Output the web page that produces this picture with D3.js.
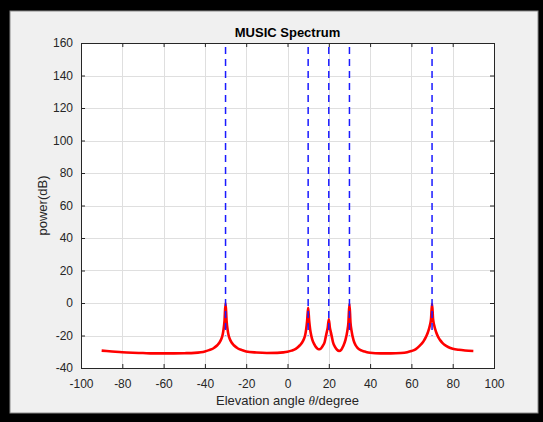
<!DOCTYPE html>
<html>
<head>
<meta charset="utf-8">
<script src="https://cdn.jsdelivr.net/npm/d3@7"></script>
<style>
  body { margin: 0; background: #000; }
  svg { display: block; font-family: "Liberation Sans", Arial, sans-serif; }
</style>
</head>
<body>
<script>
// spectrum samples (angle in degrees, power in dB)
var angles = [-90, -85, -80, -75, -70, -65, -60, -55, -50, -45, -42, -40, -38, -36, -34, -33, -32, -31.5, -31, -30.5, -30,
  -29.5, -29, -28.5, -28, -27, -26, -24, -22, -20, -15, -10, -5, -2, 0, 2, 4, 6, 7, 8, 8.5, 9, 9.5, 10,
  10.5, 11, 11.5, 12, 13, 14, 15, 16, 17, 18, 18.5, 19, 19.5, 20, 20.5, 21, 21.5, 22, 23, 24, 25, 26, 27, 28, 29, 29.5, 30,
  30.5, 31, 32, 33, 34, 36, 38, 40, 45, 50, 55, 58, 60, 62, 64, 65, 66, 67, 68, 69, 69.5, 70,
  70.5, 71, 72, 73, 74, 75, 76, 78, 80, 83, 86, 90];
var power = [-29.3, -29.8, -30.3, -30.6, -30.8, -31.0, -31.0, -31.0, -30.9, -30.7, -30.3, -29.8, -29.0, -28.0, -26.0, -24.5, -22.0, -20.0, -16.5, -11.0, 0,
  -11.0, -16.5, -20.0, -22.0, -24.5, -26.0, -28.0, -29.0, -29.8, -30.5, -30.8, -30.7, -30.4, -30.0, -29.3, -28.2, -26.0, -24.5, -22.0, -20.0, -16.5, -11.0, -3,
  -11.0, -16.5, -20.0, -22.5, -25.5, -27.5, -28.5, -28.2, -26.5, -24.0, -21.0, -18.0, -15.0, -10,
  -15.0, -18.0, -21.0, -24.0, -27.0, -28.8, -29.5, -28.8, -26.5, -23.0, -17.0, -12.0, -0.5,
  -12.0, -17.0, -23.0, -26.0, -27.8, -29.3, -30.1, -30.6, -31.0, -31.0, -30.8, -30.3, -29.6, -28.5, -26.3, -25.0, -23.3, -21.0, -18.0, -13.5, -10.0, -0.5,
  -10.0, -13.5, -18.0, -21.0, -23.0, -24.5, -25.7, -27.2, -28.1, -28.8, -29.2, -29.5];
var trueAngles = [-30, 10, 20, 30, 70];
var xTicks = [-100, -80, -60, -40, -20, 0, 20, 40, 60, 80, 100];
var yTicks = [-40, -20, 0, 20, 40, 60, 80, 100, 120, 140, 160];

var width = 543, height = 422;
var axL = 81, axR = 494, axT = 43, axB = 368;

var svg = d3.select("body").append("svg")
  .attr("width", width)
  .attr("height", height);

// figure window
svg.append("rect").attr("width", width).attr("height", height).attr("fill", "#000");
svg.append("rect")
  .attr("x", 10).attr("y", 11).attr("width", 528).attr("height", 402)
  .attr("fill", "#f0f0f0").attr("stroke", "#8a8a8a").attr("stroke-width", 1);

var x = d3.scaleLinear().domain([-100, 100]).range([axL, axR]);
var y = d3.scaleLinear().domain([-40, 160]).range([axB, axT]);

svg.append("rect")
  .attr("x", axL).attr("y", axT).attr("width", axR - axL).attr("height", axB - axT)
  .attr("fill", "#fff");

// grid
var grid = svg.append("g").attr("stroke", "#dfdfdf").attr("stroke-width", 1);
grid.selectAll(".gx").data(xTicks.slice(1, -1)).enter().append("line")
  .attr("x1", d => Math.round(x(d)) + 0.5).attr("x2", d => Math.round(x(d)) + 0.5)
  .attr("y1", axT).attr("y2", axB);
grid.selectAll(".gy").data(yTicks.slice(1, -1)).enter().append("line")
  .attr("y1", d => Math.round(y(d)) + 0.5).attr("y2", d => Math.round(y(d)) + 0.5)
  .attr("x1", axL).attr("x2", axR);

// spectrum
var pts = angles.map((a, i) => [a, power[i]]);
var line = d3.line()
  .x(d => x(d[0]))
  .y(d => y(d[1]))
  .curve(d3.curveMonotoneX);

svg.append("path")
  .datum(pts)
  .attr("d", line)
  .attr("fill", "none")
  .attr("stroke", "#ff0000")
  .attr("stroke-width", 2.6)
  .attr("stroke-linejoin", "round");

// true directions
svg.selectAll(".doa").data(trueAngles).enter().append("line")
  .attr("x1", d => x(d)).attr("x2", d => x(d))
  .attr("y1", y(160)).attr("y2", y(-20))
  .attr("stroke", "#1a1aff")
  .attr("stroke-width", 1.5)
  .attr("stroke-dasharray", "7,5")
  .attr("stroke-dashoffset", -4);

// axes
var fmt = d => String(d);
var axColor = "#262626";

var gx = svg.append("g").attr("transform", "translate(0," + axB + ")")
  .call(d3.axisBottom(x).tickValues(xTicks).tickFormat(fmt).tickSize(-4).tickPadding(11));
var gy = svg.append("g").attr("transform", "translate(" + axL + ",0)")
  .call(d3.axisLeft(y).tickValues(yTicks).tickFormat(fmt).tickSize(-4).tickPadding(8));
var gt = svg.append("g").attr("transform", "translate(0," + axT + ")")
  .call(d3.axisTop(x).tickValues(xTicks).tickFormat("").tickSize(-4));
var gr = svg.append("g").attr("transform", "translate(" + axR + ",0)")
  .call(d3.axisRight(y).tickValues(yTicks).tickFormat("").tickSize(-4));

[gx, gy, gt, gr].forEach(function(g) {
  g.select(".domain").attr("stroke", axColor).attr("shape-rendering", "crispEdges");
  g.selectAll(".tick line").attr("stroke", axColor);
  g.selectAll("text").attr("fill", axColor).style("font-size", "12px")
    .style("font-family", "'Liberation Sans', Arial, sans-serif");
});

// labels
svg.append("text")
  .attr("x", (axL + axR) / 2).attr("y", 37)
  .attr("text-anchor", "middle")
  .style("font-size", "13px").style("font-weight", "bold")
  .attr("fill", "#000")
  .text("MUSIC Spectrum");

var xl = svg.append("text")
  .attr("x", (axL + axR) / 2).attr("y", 405)
  .attr("text-anchor", "middle")
  .style("font-size", "13px")
  .attr("fill", axColor);
xl.append("tspan").text("Elevation angle ");
xl.append("tspan").style("font-family", "'Liberation Serif', 'Times New Roman', serif").style("font-style", "italic").text("θ");
xl.append("tspan").text("/degree");

svg.append("text")
  .attr("transform", "translate(47," + (axT + axB) / 2 + ") rotate(-90)")
  .attr("text-anchor", "middle")
  .style("font-size", "13px")
  .attr("fill", axColor)
  .text("power(dB)");
</script>
</body>
</html>
